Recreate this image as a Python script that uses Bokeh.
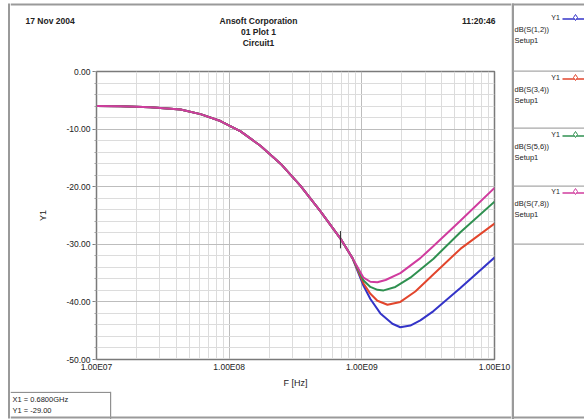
from bokeh.plotting import figure
from bokeh.layouts import row, column
from bokeh.models import FixedTicker
from bokeh.core.properties import value
from bokeh.embed import file_html
from bokeh.resources import INLINE

# ---- data ----
common_freq = [1.0e7, 1.52e7, 2.55e7, 4.3e7, 6.08e7, 8.6e7, 1.22e8, 1.72e8, 2.44e8, 3.44e8, 4.88e8, 6.9e8, 8.5e8]
common_db = [-6.0, -6.05, -6.2, -6.6, -7.4, -8.6, -10.4, -12.9, -16.0, -19.8, -24.3, -29.0, -32.4]

blue_freq = [1.03e9, 1.16e9, 1.38e9, 1.70e9, 1.95e9, 2.32e9, 2.76e9, 3.47e9, 5.53e9, 1.0e10]
blue_db = [-37.2, -39.5, -42.0, -43.8, -44.4, -44.1, -43.2, -41.6, -37.6, -32.3]
red_freq = [1.03e9, 1.16e9, 1.31e9, 1.56e9, 1.95e9, 2.53e9, 3.47e9, 5.53e9, 1.0e10]
red_db = [-36.8, -38.6, -39.8, -40.5, -40.0, -38.2, -35.2, -30.8, -26.4]
green_freq = [1.03e9, 1.16e9, 1.31e9, 1.46e9, 1.79e9, 2.32e9, 3.47e9, 5.53e9, 1.0e10]
green_db = [-36.3, -37.4, -37.9, -38.0, -37.4, -35.8, -32.5, -27.9, -22.6]
pink_freq = [1.03e9, 1.16e9, 1.31e9, 1.51e9, 1.95e9, 2.76e9, 3.47e9, 5.53e9, 1.0e10]
pink_db = [-35.8, -36.5, -36.6, -36.2, -35.0, -32.4, -30.3, -25.9, -20.2]

series_names = ["dB(S(1,2))", "dB(S(3,4))", "dB(S(5,6))", "dB(S(7,8))"]
series_setup = ["Setup1", "Setup1", "Setup1", "Setup1"]
series_colors = ["#3434c8", "#e2452c", "#2f9050", "#d03c9e"]

marker_freq = [6.9e8]
marker_db = [-29.0]
marker_text = ["X1 = 0.6800GHz", "Y1 = -29.00"]

x_ticks = [1e7, 1e8, 1e9, 1e10]
x_tick_labels = ["1.00E07", "1.00E08", "1.00E09", "1.00E10"]
y_ticks = [0, -10, -20, -30, -40, -50]
y_tick_labels = ["0.00", "-10.00", "-20.00", "-30.00", "-40.00", "-50.00"]

header_left = "17 Nov 2004"
header_center = ["Ansoft Corporation", "01 Plot 1", "Circuit1"]
header_right = "11:20:46"

FONT = "Liberation Sans"
TXT = "#222222"
BORDER = "#9a9a9a"


def panel(w, h, x0, y0):
    f = figure(width=w, height=h, x_range=(x0, x0 + w), y_range=(y0 + h, y0),
               output_backend="svg", toolbar_location=None, min_border=0,
               x_axis_location=None, y_axis_location=None, frame_align=False)
    f.grid.visible = False
    f.outline_line_color = None
    f.background_fill_color = "white"
    f.border_fill_color = "white"
    return f


def texts(f, xs, ys, ts, size="9px", align="left", color=TXT, style="normal"):
    f.text(x=xs, y=ys, text=ts, text_font=value(FONT), text_font_size=value(size),
           text_align=align, text_baseline="middle", text_color=color, text_font_style=style)


# ---------- left strip (window border) ----------
left = panel(10, 419, 0, 0)
left.quad(left=[7.5], right=[9.5], top=[3], bottom=[418], fill_color=BORDER, line_color=None)

# ---------- header ----------
head = panel(501, 63, 10, 0)
head.quad(left=[10], right=[511], top=[3], bottom=[5], fill_color=BORDER, line_color=None)
texts(head, [25], [20], [header_left], size="8.5px", style="bold")
texts(head, [258, 258, 258], [20, 31, 42], header_center, size="8.5px", align="center", style="bold")
texts(head, [495], [20], [header_right], size="8.5px", align="right", style="bold")

# ---------- main chart ----------
p = figure(width=501, height=328, x_axis_type="log", x_range=(1e7, 1e10), y_range=(-50, 0),
           output_backend="svg", toolbar_location=None, frame_align=False,
           min_border_left=86, min_border_right=17, min_border_top=8, min_border_bottom=32)
p.background_fill_color = "white"
p.border_fill_color = "white"
p.outline_line_color = "#7a7a7a"
p.outline_line_width = 1.5

minor_x = []
for d in x_ticks[:-1]:
    for k in range(2, 10):
        minor_x.append(d * k)
p.xaxis.ticker = FixedTicker(ticks=x_ticks, minor_ticks=minor_x)
p.yaxis.ticker = FixedTicker(ticks=y_ticks, minor_ticks=[v for v in range(-50, 1, 2)])
p.xaxis.major_label_overrides = dict(zip(x_ticks, x_tick_labels))
p.yaxis.major_label_overrides = dict(zip(y_ticks, y_tick_labels))

for ax in (p.xaxis, p.yaxis):
    ax.axis_line_color = "#7a7a7a"
    ax.major_tick_line_color = "#7a7a7a"
    ax.minor_tick_line_color = "#a0a0a0"
    ax.major_tick_in = 0
    ax.minor_tick_in = 0
    ax.major_label_text_font = FONT
    ax.major_label_text_font_size = "8.5px"
    ax.major_label_text_color = TXT
    ax.axis_label_text_font = FONT
    ax.axis_label_text_font_size = "9px"
    ax.axis_label_text_font_style = "normal"
    ax.axis_label_text_color = TXT
    ax.major_label_standoff = 2

p.yaxis.major_tick_out = 4
p.yaxis.minor_tick_out = 2
p.xaxis.major_tick_out = 0
p.xaxis.minor_tick_out = 0
p.xaxis.axis_label = "F [Hz]"
p.yaxis.axis_label = "Y1"
p.xaxis.axis_label_standoff = 3
p.yaxis.axis_label_standoff = 15

p.xgrid.grid_line_color = "#bdbdbd"
p.ygrid.grid_line_color = "#bdbdbd"
p.xgrid.minor_grid_line_color = "#dcdcdc"
p.ygrid.minor_grid_line_color = "#dcdcdc"

tails = [(blue_freq, blue_db), (red_freq, red_db), (green_freq, green_db), (pink_freq, pink_db)]
for (f, d), c in zip(tails, series_colors):
    p.line(common_freq + f, common_db + d, line_color=c, line_width=2)

p.segment(x0=marker_freq, y0=[v + 1.3 for v in marker_db], x1=marker_freq, y1=[v - 1.7 for v in marker_db],
          line_color="#333333", line_width=1)

# ---------- bottom strip (marker readout) ----------
bot = panel(501, 28, 10, 391)
bot.quad(left=[10], right=[110.5], top=[391.2], bottom=[392.4], fill_color="#909090", line_color=None)
bot.quad(left=[109.5], right=[110.7], top=[391.2], bottom=[419], fill_color="#909090", line_color=None)
bot.quad(left=[10], right=[511], top=[416], bottom=[418], fill_color=BORDER, line_color=None)
texts(bot, [12, 12], [399, 410], marker_text, size="7.5px")

# ---------- right legend panel ----------
leg = panel(73, 419, 511, 0)
leg.quad(left=[511], right=[584], top=[3], bottom=[5], fill_color=BORDER, line_color=None)
leg.quad(left=[511], right=[513.5], top=[3], bottom=[419], fill_color=BORDER, line_color=None)
leg.quad(left=[511], right=[584], top=[416], bottom=[418], fill_color=BORDER, line_color=None)
sep_y = [70, 127, 185, 243]
leg.quad(left=[513] * 4, right=[584] * 4, top=sep_y, bottom=[v + 1.2 for v in sep_y],
         fill_color="#a8a8a8", line_color=None)
head_y = [17, 77, 134, 191]
for i, (name, setup, c) in enumerate(zip(series_names, series_setup, series_colors)):
    hy = head_y[i]
    texts(leg, [555], [hy], ["Y1"], size="7px", align="center")
    leg.segment(x0=[562], y0=[hy + 1.5], x1=[584], y1=[hy + 1.5], line_color=c, line_width=1.5)
    leg.scatter(x=[575], y=[hy], marker="diamond", size=6, fill_color="white", line_color=c, line_width=1)
    texts(leg, [514, 514], [hy + 12, hy + 23], [name, setup], size="7.5px")

layout = row(left, column(head, p, bot, spacing=0), leg, spacing=0)
open("out.html", "w").write(file_html(layout, INLINE))
